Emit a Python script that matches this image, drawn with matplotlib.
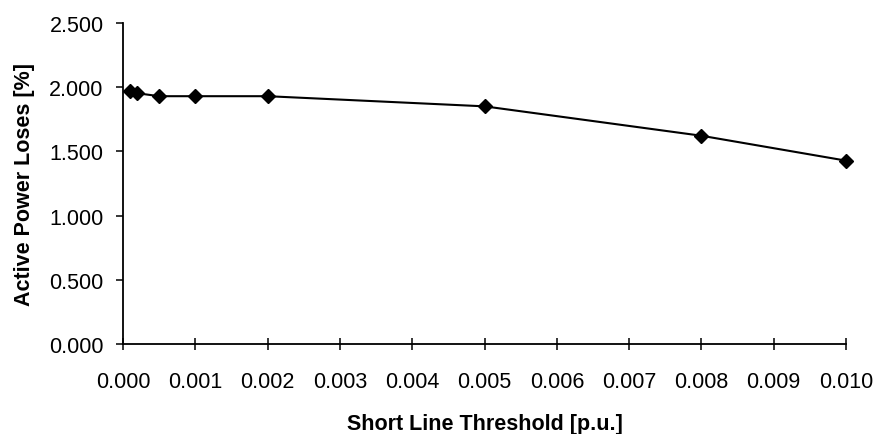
import matplotlib
matplotlib.use("Agg")
import matplotlib.pyplot as plt
from matplotlib.ticker import FormatStrFormatter, MultipleLocator

plt.rcParams['font.family'] = ['Liberation Sans', 'DejaVu Sans']

threshold = [0.0001, 0.0002, 0.0005, 0.001, 0.002, 0.005, 0.008, 0.010]
losses = [1.973, 1.953, 1.930, 1.930, 1.930, 1.851, 1.622, 1.428]

x_label = "Short Line Threshold [p.u.]"
y_label = "Active Power Loses [%]"

fig = plt.figure(figsize=(8.75, 4.35), dpi=100)
ax = fig.add_axes([0.1406, 0.2069, 0.8263, 0.7379])

ax.plot(threshold, losses, color='black', lw=1.5, marker='D', markersize=7,
        zorder=3, clip_on=False)

ax.set_xlim(0, 0.010)
ax.set_ylim(0, 2.5)
ax.xaxis.set_major_locator(MultipleLocator(0.001))
ax.yaxis.set_major_locator(MultipleLocator(0.5))
ax.xaxis.set_major_formatter(FormatStrFormatter('%.3f'))
ax.yaxis.set_major_formatter(FormatStrFormatter('%.3f'))

for s in ['top', 'right']:
    ax.spines[s].set_visible(False)
for s in ['left', 'bottom']:
    ax.spines[s].set_linewidth(1.3)

ax.tick_params(axis='x', direction='inout', length=8.5, width=1.1,
               labelsize=15.5, pad=15)
ax.tick_params(axis='y', direction='out', length=5, width=1.1,
               labelsize=15.5, pad=9)

ax.set_xlabel(x_label, fontsize=15.5, fontweight='bold', labelpad=15.5)
ax.set_ylabel(y_label, fontsize=15.5, fontweight='bold', labelpad=10)

fig.savefig("out.png", dpi=100)
